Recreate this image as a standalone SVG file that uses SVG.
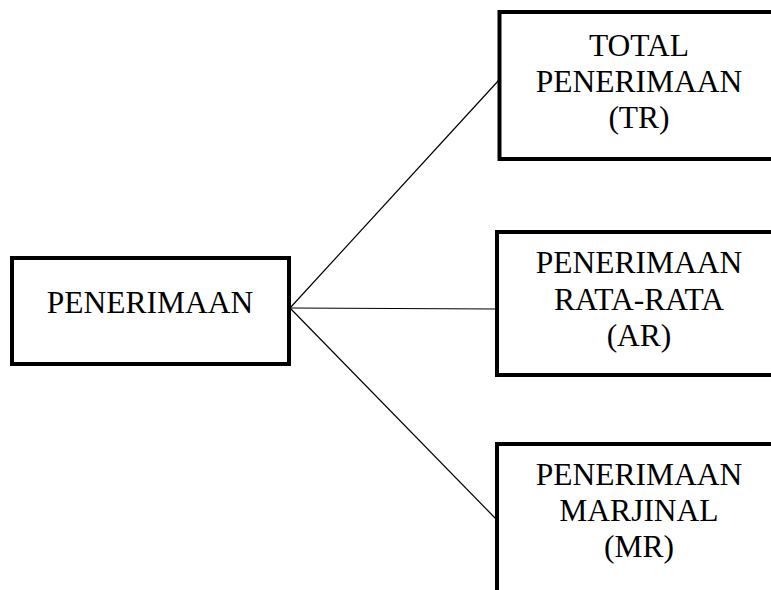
<svg xmlns="http://www.w3.org/2000/svg" width="771" height="590" viewBox="0 0 771 590">
<style>
.box{fill:#fff;stroke:#000;stroke-width:4}
.lbl{font-family:"Liberation Serif","Times New Roman",serif;font-size:31.5px;fill:#000;text-anchor:middle}
.conn{stroke:#000;stroke-width:1.2;fill:none}
</style>
<rect width="771" height="590" fill="#fff"/>
<g id="connectors">
<line class="conn" x1="290" y1="308" x2="499" y2="80"/>
<line class="conn" x1="290" y1="308" x2="497" y2="309"/>
<line class="conn" x1="290" y1="308" x2="497" y2="520"/>
</g>
<g id="penerimaan">
<rect class="box" x="12" y="258" width="277" height="106"/>
<text class="lbl" x="150" y="313">PENERIMAAN</text>
</g>
<g id="tr">
<rect class="box" x="499.5" y="12" width="300" height="147"/>
<text class="lbl" x="639" y="56">TOTAL</text>
<text class="lbl" x="639" y="92">PENERIMAAN</text>
<text class="lbl" x="639" y="128">(TR)</text>
</g>
<g id="ar">
<rect class="box" x="497" y="232" width="300" height="143"/>
<text class="lbl" x="639" y="273">PENERIMAAN</text>
<text class="lbl" x="639" y="310">RATA-RATA</text>
<text class="lbl" x="639" y="346">(AR)</text>
</g>
<g id="mr">
<rect class="box" x="497" y="444" width="300" height="200"/>
<text class="lbl" x="639" y="485">PENERIMAAN</text>
<text class="lbl" x="639" y="521">MARJINAL</text>
<text class="lbl" x="639" y="557">(MR)</text>
</g>
</svg>
